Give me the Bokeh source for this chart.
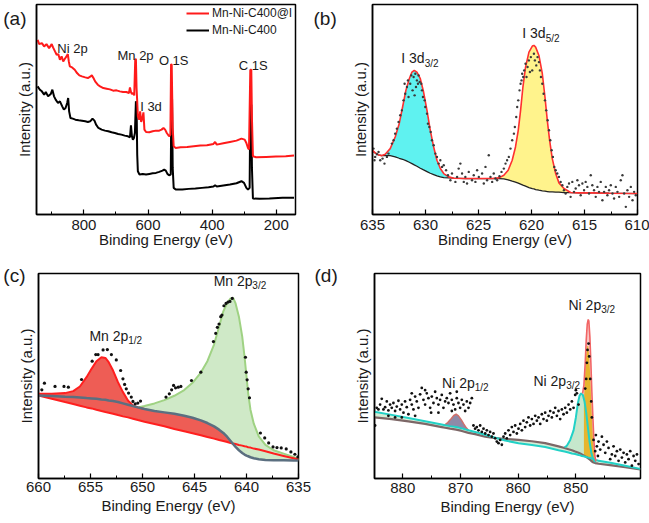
import numpy as np
from bokeh.plotting import figure
from bokeh.layouts import row, column
from bokeh.models import Range1d, Label, Legend, LegendItem, FixedTicker, LinearAxis
from bokeh.embed import file_html
from bokeh.resources import INLINE

FONT = "Liberation Sans"
TXT = "#1a1a1a"

# ---------------- (a) survey spectra ----------------
a_red_e = [944.6, 939.5, 931.3, 924.1, 916.9, 908.7, 900.5, 896.4, 890.3, 885.1, 880.0, 874.9, 869.7, 864.6, 859.5,
           854.4, 850.3, 847.2, 844.1, 836.9, 828.7, 821.5, 814.4, 806.2, 795.9, 787.7, 780.5, 775.4, 770.3, 765.1,
           756.9, 749.7, 739.5, 729.2, 719.0, 708.7, 698.5, 688.2, 678.0, 667.7, 659.5, 656.4, 653.3, 650.3, 646.2,
           643.1, 640.0, 637.9, 635.9, 633.8, 631.8, 627.7, 624.6, 621.5, 617.4, 614.4, 611.3, 606.2, 595.9, 585.6,
           575.4, 565.1, 557.9, 551.8, 546.7, 541.5, 534.4, 530.3, 528.2, 526.2, 523.1, 520.0, 513.8, 498.5, 478.0,
           457.4, 436.9, 416.4, 395.9, 390.8, 385.6, 365.1, 344.6, 324.1, 308.7, 298.5, 293.3, 288.2, 285.1, 281.0,
           277.9, 275.9, 272.8, 262.6, 231.8, 201.0, 170.3, 144.6]
a_red_i = [52.5, 51.2, 51.5, 50.5, 51.2, 50.0, 51.2, 50.2, 49.0, 48.0, 48.2, 46.5, 47.5, 46.0, 46.8,
           47.5, 48.2, 46.0, 44.5, 44.2, 43.5, 42.5, 41.8, 41.5, 41.2, 41.0, 41.4, 41.8, 41.0, 40.0,
           39.0, 38.5, 38.0, 37.8, 37.6, 37.2, 37.3, 37.0, 36.8, 36.8, 36.5, 38.2, 36.8, 36.2, 36.5,
           35.8, 46.5, 46.8, 38.0, 34.0, 29.5, 28.5, 31.0, 27.8, 29.0, 30.7, 25.5, 24.8, 24.7, 25.0,
           25.2, 25.2, 25.5, 26.0, 25.5, 24.5, 23.5, 24.0, 45.2, 45.0, 26.0, 20.5, 20.0, 20.2, 20.3,
           20.5, 20.7, 20.8, 21.2, 21.8, 21.0, 21.4, 21.8, 22.2, 22.8, 22.5, 21.5, 20.0, 19.5, 43.5,
           43.5, 29.0, 17.5, 17.2, 17.3, 17.4, 17.5, 17.7]
a_blk_e = [944.6, 937.4, 931.3, 924.1, 919.0, 911.8, 903.6, 898.5, 893.3, 888.2, 881.0, 874.9, 867.7, 862.6, 857.4,
           852.3, 849.2, 846.2, 842.1, 834.9, 826.7, 816.4, 806.2, 795.9, 787.7, 780.5, 773.3, 767.2, 762.1, 754.9,
           744.6, 734.4, 724.1, 713.8, 703.6, 693.3, 683.1, 672.8, 662.6, 656.4, 653.3, 650.3, 647.2, 644.1, 641.0,
           637.9, 635.9, 633.8, 631.8, 626.7, 616.4, 606.2, 595.9, 585.6, 575.4, 565.1, 554.9, 549.7, 544.6, 539.5,
           534.4, 529.2, 527.2, 525.1, 523.1, 520.0, 513.8, 493.3, 472.8, 452.3, 431.8, 411.3, 395.9, 390.8, 385.6,
           365.1, 344.6, 324.1, 308.7, 300.5, 293.3, 288.2, 283.1, 281.0, 277.9, 275.9, 272.8, 252.3, 221.5, 180.5,
           144.6]
a_blk_i = [38.5, 37.5, 37.0, 36.0, 36.8, 35.5, 36.2, 37.5, 35.5, 34.5, 33.5, 34.0, 32.5, 31.5, 32.0,
           33.5, 35.0, 31.0, 29.0, 28.8, 28.5, 28.3, 28.2, 28.0, 27.8, 28.0, 28.8, 28.2, 27.0, 26.0,
           25.5, 25.2, 25.0, 24.7, 24.5, 24.2, 24.0, 23.7, 23.5, 23.2, 26.8, 23.5, 22.5, 23.0, 24.5,
           34.0, 33.5, 18.0, 13.0, 12.0, 12.2, 12.0, 12.2, 12.4, 12.5, 12.8, 13.2, 13.5, 13.2, 12.2,
           11.8, 12.0, 35.0, 34.8, 14.0, 8.0, 7.5, 7.5, 7.7, 7.8, 8.0, 8.2, 8.4, 8.8, 8.4,
           8.7, 9.0, 9.4, 10.0, 9.5, 8.0, 7.5, 8.0, 33.0, 33.0, 14.0, 4.8, 4.7, 4.8, 5.0,
           5.0]
a_series = ["Mn-Ni-C400@I", "Mn-Ni-C400"]
a_xticks = [200, 400, 600, 800]
a_xminor = [100, 300, 500, 700, 900]
a_peak_names = ["Ni 2p", "Mn 2p", "O 1S", "C 1S", "I 3d"]
a_peak_e = [883.0, 695.4, 566.2, 316.9, 624.6]
a_peak_i = [50.0, 47.8, 46.3, 44.8, 32.5]

# ---------------- (b) I 3d ----------------
b_e = [635.00, 634.75, 634.43, 634.12, 633.80, 633.33, 632.86, 632.48, 632.16, 631.85,
       631.53, 631.28, 631.06, 630.81, 630.49, 630.18, 629.86, 629.55, 629.23, 628.92,
       628.60, 628.28, 627.81, 627.34, 626.24, 624.97, 623.71, 623.08, 622.61, 622.20,
       621.82, 621.51, 621.25, 621.03, 620.81, 620.56, 620.24, 619.92, 619.77, 619.61,
       619.30, 618.98, 618.73, 618.51, 618.29, 618.04, 617.72, 617.41, 616.94, 616.31,
       615.52, 614.26, 612.68, 610.00]
b_bg = [19.1, 18.5, 17.9, 17.7, 17.7, 17.7, 17.3, 16.9, 16.6, 16.2,
        15.7, 15.3, 14.9, 14.5, 13.9, 13.4, 12.9, 12.4, 12.0, 11.6,
        11.3, 11.1, 11.0, 10.9, 10.8, 10.8, 10.8, 10.8, 10.7, 10.4,
        10.0, 9.7, 9.4, 9.1, 8.8, 8.5, 8.1, 7.8, 7.7, 7.5,
        7.3, 7.1, 7.0, 6.9, 6.8, 6.8, 6.7, 6.7, 6.6, 6.6,
        6.5, 6.5, 6.4, 6.3]
b_env = [19.3, 18.5, 17.9, 17.7, 18.1, 19.8, 23.3, 27.3, 32.3, 37.3,
         40.8, 42.8, 43.3, 42.8, 40.8, 36.8, 31.3, 25.3, 20.3, 16.3,
         13.8, 12.3, 11.3, 10.9, 10.8, 10.8, 10.8, 11.0, 11.8, 13.3,
         16.3, 20.3, 25.3, 31.3, 38.3, 44.3, 48.8, 50.6, 50.8, 50.3,
         47.8, 42.3, 35.3, 28.3, 22.3, 16.8, 12.3, 9.5, 7.8, 6.6,
         6.5, 6.5, 6.4, 6.3]
b_sc_e = [634.91, 634.81, 634.75, 634.59, 634.43, 634.27, 634.05, 633.87, 633.64, 633.49,
          633.17, 633.01, 632.86, 632.70, 632.54, 632.38, 632.23, 632.07, 631.97, 631.91,
          631.75, 631.66, 631.60, 631.44, 631.34, 631.22, 631.12, 631.03, 630.96, 630.90,
          630.81, 630.71, 630.65, 630.55, 630.40, 630.33, 630.24, 630.08, 630.02, 629.86,
          629.77, 629.64, 629.51, 629.39, 629.23, 629.07, 628.92, 628.76, 628.60, 628.44,
          628.28, 628.06, 627.88, 627.65, 627.50, 627.18, 627.02, 626.87, 626.71, 626.55,
          626.39, 626.24, 626.08, 625.92, 625.61, 625.45, 625.29, 625.13, 624.97, 624.66,
          624.50, 624.34, 624.19, 624.03, 623.87, 623.71, 623.56, 623.40, 623.24, 623.02,
          622.83, 622.61, 622.45, 622.30, 622.14, 621.98, 621.82, 621.66, 621.57, 621.44,
          621.35, 621.25, 621.13, 621.03, 620.94, 620.88, 620.78, 620.69, 620.56, 620.47,
          620.37, 620.25, 620.15, 620.06, 619.93, 619.77, 619.68, 619.55, 619.43, 619.30,
          619.21, 619.11, 618.98, 618.86, 618.73, 618.61, 618.48, 618.35, 618.23, 618.10,
          617.98, 617.85, 617.72, 617.57, 617.41, 617.25, 617.09, 616.94, 616.78, 616.62,
          616.46, 616.31, 616.15, 615.99, 615.83, 615.67, 615.52, 615.36, 615.20, 615.04,
          614.89, 614.73, 614.57, 614.41, 614.26, 614.10, 613.94, 613.78, 613.63, 613.47,
          613.31, 613.15, 612.99, 612.84, 612.68, 612.52, 612.36, 612.21, 612.05, 611.89,
          611.73, 611.58, 611.42, 611.26, 611.10, 610.95, 610.79, 610.63, 610.47, 610.32, 610.16]
b_sc_i = [19.8, 16.3, 17.3, 18.1, 18.8, 16.3, 16.8, 15.3, 17.3, 18.3,
          21.3, 22.3, 24.3, 25.8, 27.8, 29.8, 31.3, 34.3, 39.3, 36.3,
          38.3, 40.3, 35.3, 39.3, 41.8, 37.3, 41.3, 35.8, 42.3, 38.3,
          40.3, 39.3, 41.8, 39.8, 39.3, 37.3, 35.3, 34.3, 32.3, 30.3,
          27.3, 26.3, 24.8, 22.3, 20.8, 18.3, 17.3, 15.3, 16.3, 14.3,
          14.8, 13.3, 11.8, 10.3, 12.3, 9.8, 11.3, 13.8, 15.3, 12.3,
          9.8, 11.3, 9.3, 12.8, 10.3, 11.8, 9.8, 13.3, 11.3, 12.3,
          9.3, 14.3, 10.3, 17.8, 11.3, 9.8, 12.3, 10.8, 10.3, 11.5,
          12.8, 13.8, 15.3, 16.3, 17.3, 19.8, 22.3, 24.3, 26.3, 29.3,
          32.3, 34.3, 37.3, 39.3, 40.3, 42.3, 41.3, 43.3, 45.3, 41.3,
          44.3, 46.3, 42.8, 47.3, 43.3, 48.3, 46.3, 44.8, 47.3, 45.8,
          43.3, 41.3, 39.3, 36.3, 34.3, 31.3, 28.3, 25.3, 22.3, 19.3,
          17.3, 14.3, 13.3, 12.3, 11.3, 9.8, 8.8, 7.3, 6.3, 8.3,
          9.3, 5.3, 9.8, 6.8, 7.8, 10.3, 8.8, 5.8, 9.3, 7.3,
          9.8, 8.3, 6.3, 11.8, 8.8, 7.3, 5.3, 8.3, 6.8, 9.8,
          4.3, 6.8, 8.3, 5.8, 7.3, 8.8, 6.3, 4.8, 8.3, 6.8,
          5.3, 10.3, 11.8, 6.3, 2.3, 7.3, 5.3, 8.3, 4.3, 6.8, 5.8]
b_ticks = [610, 615, 620, 625, 630, 635]
b_minor = [612.5, 617.5, 622.5, 627.5, 632.5]

# ---------------- (c) Mn 2p ----------------
c_e = [660.00, 658.73, 657.45, 656.66, 656.02, 655.38, 654.90, 654.43, 653.95, 653.57,
       653.25, 652.83, 652.36, 651.88, 651.40, 650.92, 650.45, 649.81, 648.85, 647.90,
       646.94, 645.99, 645.19, 644.39, 643.76, 643.12, 642.64, 642.23, 641.85, 641.53,
       641.27, 641.05, 640.73, 640.41, 640.19, 640.00, 639.84, 639.62, 639.30, 638.82,
       638.18, 637.39, 636.43, 635.48, 635.00]
c_linbg = [25.0, 24.0, 23.0, 22.4, 21.9, 21.4, 21.1, 20.7, 20.3, 20.0,
           19.8, 19.5, 19.1, 18.7, 18.4, 18.0, 17.6, 17.1, 16.4, 15.7,
           14.9, 14.2, 13.6, 13.0, 12.5, 12.0, 11.6, 11.3, 11.0, 10.7,
           10.5, 10.4, 10.1, 9.9, 9.7, 9.6, 9.4, 9.3, 9.0, 8.7,
           8.2, 7.5, 6.8, 6.1, 5.7]
c_shirley = [25.0, 24.8, 24.6, 24.5, 24.4, 24.2, 24.1, 24.0, 23.8, 23.7,
             23.5, 23.3, 23.0, 22.6, 22.2, 21.8, 21.4, 20.9, 20.3, 19.9,
             19.5, 18.9, 18.3, 17.5, 16.7, 15.7, 14.7, 13.7, 12.5, 11.3,
             10.3, 9.5, 8.5, 7.7, 7.2, 6.9, 6.7, 6.4, 6.1, 5.8,
             5.6, 5.5, 5.5, 5.4, 5.4]
c_p12 = [25.5, 25.5, 25.7, 26.3, 27.7, 30.5, 33.0, 35.3, 36.5, 36.3,
         35.0, 32.5, 29.0, 26.0, 23.5, 22.0, 21.4, 20.9]          # first 18 energies
c_p32 = [21.4, 21.8, 22.6, 23.6, 24.9, 26.6, 28.8, 31.9, 35.3, 40.3,
         45.7, 50.3, 52.9, 54.2, 54.3, 52.7, 48.7, 42.7, 36.7, 30.7,
         25.7, 20.7, 16.5, 12.7, 10.1, 8.5, 7.5, 6.5, 5.8]         # energies from index 16
c_sc_e = [659.68, 659.43, 658.41, 657.55, 657.13, 655.86, 654.84, 654.49, 654.27, 653.79,
          653.38, 652.99, 652.52, 652.10, 651.88, 651.72, 651.56, 651.34, 651.08, 650.92,
          650.70, 650.45, 650.19, 647.74, 647.42, 647.20, 647.01, 646.82, 646.56, 646.31,
          645.29, 644.39, 643.18, 642.96, 642.80, 642.64, 642.48, 642.36, 642.17, 641.97,
          641.78, 641.59, 641.37, 640.10, 640.03, 639.94, 639.84, 639.71, 638.66, 638.25,
          637.87, 637.45, 637.07, 636.66, 636.18, 635.73, 635.35, 635.06]
c_sc_i = [26.7, 28.7, 27.7, 27.7, 27.5, 29.8, 35.3, 37.3, 37.3, 38.7,
          38.8, 37.3, 35.7, 32.5, 30.0, 28.3, 27.0, 25.7, 24.5, 23.2,
          22.5, 22.7, 23.3, 24.5, 25.5, 26.7, 28.0, 27.3, 27.5, 27.7,
          29.5, 32.0, 41.2, 43.7, 45.5, 46.5, 48.7, 49.2, 52.0, 52.7,
          53.1, 53.3, 54.2, 36.5, 32.0, 29.7, 27.0, 24.3, 13.7, 12.2,
          10.7, 9.5, 9.3, 9.2, 8.9, 8.0, 7.3, 6.5]
c_ticks = [635, 640, 645, 650, 655, 660]
c_minor = [637.5, 642.5, 647.5, 652.5, 657.5]

# ---------------- (d) Ni 2p ----------------
d_e = [884.91, 881.91, 879.02, 876.13, 873.24, 872.66, 871.79, 870.75, 869.77, 868.61,
       867.46, 865.72, 864.57, 862.25, 859.94, 857.63, 855.32, 853.01, 851.97, 851.27,
       850.69, 850.12, 849.54, 849.25, 848.96, 848.67, 848.38, 848.09, 847.80, 847.51,
       847.23, 846.94, 846.65, 846.36, 846.07, 843.76, 841.45, 838.84]
d_shirley = [19.0, 18.5, 17.8, 17.0, 16.0, 15.8, 15.5, 15.2, 14.8, 14.2,
             13.8, 13.0, 12.7, 12.3, 12.0, 11.6, 11.0, 10.0, 9.5, 9.1,
             8.8, 8.4, 8.0, 7.8, 7.5, 7.2, 6.9, 6.6, 6.2, 5.8,
             5.3, 5.0, 4.8, 4.7, 4.6, 4.1, 3.5, 2.8]
d_linbg = [20.8, 19.8, 18.8, 17.8, 16.8, 16.6, 16.3, 16.0, 15.6, 15.0,
           14.5, 13.6, 13.0, 11.8, 11.0, 10.4, 9.8, 8.8, 8.4, 8.1,
           7.8, 7.6, 7.3, 7.2, 7.0, 6.9, 6.8, 6.6, 6.5, 6.4,
           6.2, 6.0, 5.8, 5.7, 5.5, 4.8, 4.0, 3.0]
d_p12_e = [872.77, 872.20, 871.62, 871.16, 870.75, 870.35, 869.88, 869.42, 868.96, 868.61]
d_p12_top = [16.6, 17.4, 18.6, 19.6, 20.0, 19.5, 18.3, 16.9, 15.7, 15.0]
d_p12_base = [16.6, 16.4, 16.3, 16.1, 16.0, 15.8, 15.7, 15.4, 15.2, 15.0]
d_sat_e = [851.97, 851.56, 850.98, 850.40, 850.00, 849.65, 849.36, 849.08, 848.79, 848.50,
           848.21, 847.92, 847.63, 847.34, 847.05, 846.76, 846.53]
d_sat_top = [9.7, 10.2, 12.0, 15.0, 19.0, 23.5, 25.8, 26.5, 26.0, 24.0,
             20.5, 16.0, 11.5, 8.2, 6.2, 5.4, 5.2]
d_sat_base = [9.5, 9.3, 9.0, 8.6, 8.3, 8.1, 7.9, 7.6, 7.3, 7.0,
              6.7, 6.3, 5.9, 5.5, 5.1, 4.9, 4.8]
d_main_e = [848.61, 848.38, 848.21, 848.03, 847.86, 847.69, 847.51, 847.34, 847.17, 847.00, 846.76, 846.53]
d_main_top = [24.0, 33.0, 38.5, 41.2, 41.2, 38.0, 32.0, 24.0, 17.0, 11.0, 6.5, 5.2]
d_main_base = [7.1, 6.9, 6.7, 6.5, 6.3, 6.0, 5.8, 5.5, 5.2, 5.1, 4.9, 4.8]
d_env_e = [848.84, 848.61, 848.38, 848.21, 848.03, 847.86, 847.75, 847.57, 847.40, 847.23,
           847.05, 846.88, 846.71, 846.53]
d_env_top = [26.5, 29.0, 36.0, 43.0, 48.0, 49.5, 49.0, 44.0, 36.0, 27.0, 19.0, 12.0, 7.0, 5.3]
d_env_base = [7.4, 7.1, 6.9, 6.7, 6.5, 6.3, 6.1, 5.9, 5.6, 5.3, 5.1, 5.0, 4.9, 4.8]
d_sc_e = [884.80, 884.51, 884.22, 883.93, 883.64, 883.35, 883.06, 882.77, 882.49, 882.20,
          881.91, 881.62, 881.33, 881.04, 880.75, 880.46, 880.17, 879.88, 879.60, 879.31,
          879.02, 878.73, 878.44, 878.15, 877.86, 877.57, 877.28, 876.99, 876.71, 876.42,
          876.13, 875.84, 875.55, 875.26, 874.97, 874.68, 874.39, 874.10, 873.82, 873.53,
          873.24, 872.95, 872.66, 872.37, 872.08, 871.79, 871.50, 871.21, 870.92, 870.64,
          870.35, 870.06, 869.77, 869.48, 869.19, 868.90, 868.61, 868.32, 868.03, 875.09,
          877.86, 880.17, 882.49, 873.82, 871.50, 876.13, 878.44, 881.33, 870.64,
          867.75, 867.46, 867.17, 866.88, 866.59, 866.30, 866.01, 865.72, 865.43, 865.14,
          864.86, 864.57, 864.28, 863.99, 863.70, 863.41, 863.12, 862.83, 862.54, 862.25,
          861.97, 861.68, 861.39, 861.10, 860.81, 860.52, 860.23, 859.94, 859.65, 859.36,
          859.08, 858.79, 858.50, 858.21, 857.92, 857.63, 857.34, 857.05, 856.76, 856.47,
          856.18, 855.90, 855.61, 855.32, 855.03, 854.74, 854.45, 854.16, 853.87, 853.58,
          853.29, 853.01, 852.72, 852.43, 852.14, 851.85, 851.56, 851.27, 850.98, 850.69,
          850.40, 850.12, 850.00, 849.83, 849.54,
          848.38, 848.21, 848.09, 847.98, 847.80, 847.69, 847.51, 847.34, 847.23,
          846.94, 846.65, 846.53, 846.36, 846.18, 846.07, 845.78, 845.49, 845.20, 844.91,
          844.62, 844.34, 844.05, 843.76, 843.47, 843.18, 842.89, 842.60, 842.31, 842.02,
          841.73, 841.45, 841.16, 840.87, 840.58, 840.29, 840.00, 839.71, 839.42, 839.13]
d_sc_i = [16.5, 22.0, 21.5, 23.0, 24.8, 21.5, 22.2, 24.0, 21.2, 23.0,
          22.0, 23.5, 21.0, 22.4, 24.2, 21.5, 23.0, 20.5, 24.0, 22.2,
          20.0, 24.5, 23.0, 21.5, 25.5, 24.0, 22.0, 26.2, 28.2, 24.5,
          23.0, 26.5, 25.0, 22.0, 25.5, 23.5, 27.0, 25.0, 23.0, 24.5,
          26.0, 22.0, 24.0, 25.0, 23.5, 26.5, 24.5, 23.0, 21.5, 25.0,
          23.5, 22.0, 24.5, 23.0, 21.0, 24.0, 22.0, 23.5, 25.0, 20.5,
          19.5, 19.0, 19.5, 20.5, 21.0, 27.5, 26.5, 19.0, 27.0,
          16.5, 15.5, 16.0, 15.0, 16.5, 14.5, 15.5, 14.0, 15.0, 13.5,
          14.5, 13.0, 14.0, 12.5, 11.5, 11.0, 12.0, 10.5, 13.0, 14.0,
          12.5, 15.0, 13.5, 16.0, 14.5, 16.5, 14.0, 15.5, 17.0, 15.0,
          18.0, 16.0, 17.5, 19.0, 16.5, 18.5, 17.0, 19.5, 18.0, 19.0,
          17.0, 20.0, 18.5, 20.5, 18.0, 19.5, 21.0, 19.0, 20.5, 22.0,
          19.5, 21.0, 18.5, 21.5, 20.0, 22.0, 20.5, 23.0, 21.5, 24.0,
          22.0, 26.0, 27.5, 26.5, 23.0,
          28.0, 31.0, 36.0, 40.0, 42.0, 38.0, 31.0, 24.0, 19.0,
          12.0, 8.5, 13.5, 10.0, 7.0, 11.5, 9.0, 13.0, 10.5, 8.0,
          11.5, 9.5, 6.0, 7.5, 10.0, 7.0, 8.5, 5.5, 9.0, 6.5,
          8.0, 5.0, 7.5, 6.0, 8.5, 4.0, 7.0, 5.5, 7.5, 4.5]
d_ticks = [850, 860, 870, 880]
d_minor = [845, 855, 865, 875]

panel_tags = ["(a)", "(b)", "(c)", "(d)"]


def make_fig(width, height, xr, yr, borders, ticks, minor, tick_standoff, title_standoff):
    bl, br, bt, bb = borders
    p = figure(width=width, height=height, x_range=Range1d(*xr), y_range=Range1d(*yr),
               output_backend="svg", toolbar_location=None,
               min_border_left=bl, min_border_right=br, min_border_top=bt, min_border_bottom=bb)
    p.grid.visible = False
    p.background_fill_color = "white"
    p.border_fill_color = "white"
    p.outline_line_color = "black"
    p.outline_line_width = 1.5
    p.outline_line_alpha = 1.0
    ax = p.xaxis[0]
    ax.ticker = FixedTicker(ticks=ticks, minor_ticks=minor)
    ax.axis_label = "Binding Energy (eV)"
    ax.axis_label_text_font = FONT
    ax.axis_label_text_font_size = "15px"
    ax.axis_label_text_font_style = "normal"
    ax.axis_label_text_color = TXT
    ax.axis_label_standoff = title_standoff
    ax.major_label_text_font = FONT
    ax.major_label_text_font_size = "15px"
    ax.major_label_text_color = TXT
    ax.major_label_standoff = tick_standoff
    ax.major_tick_in = 5
    ax.major_tick_out = 0
    ax.minor_tick_in = 3
    ax.minor_tick_out = 0
    ax.axis_line_width = 1.5
    ax.major_tick_line_width = 1.2
    ax.minor_tick_line_width = 1.0
    ay = p.yaxis[0]
    ay.ticker = FixedTicker(ticks=[])
    ay.axis_label = "Intensity (a.u.)"
    ay.axis_label_text_font = FONT
    ay.axis_label_text_font_size = "15px"
    ay.axis_label_text_font_style = "normal"
    ay.axis_label_text_color = TXT
    ay.axis_label_standoff = 4
    ay.major_label_standoff = 0
    ay.major_tick_out = 0
    ay.major_tick_in = 0
    ay.axis_line_width = 1.5
    return p


def add_text(p, x, y, s, size, align="left"):
    p.add_layout(Label(x=x, y=y, text=s, text_font=FONT, text_font_size=f"{size}px",
                       text_color=TXT, text_align=align, text_baseline="middle"))


def add_sub(p, x, y, main, sub, xs, ys, size=14):
    add_text(p, x, y, main, size)
    add_text(p, xs, ys, sub, 10)


def add_tag(p, s, yval, standoff, side):
    # panel letter: a bare side axis whose single tick label is the letter
    tag = LinearAxis(ticker=FixedTicker(ticks=[yval], minor_ticks=[]),
                     major_label_overrides={yval: s})
    tag.axis_line_color = None
    tag.major_tick_line_color = None
    tag.minor_tick_line_color = None
    tag.major_tick_in = 0
    tag.major_tick_out = 0
    tag.minor_tick_in = 0
    tag.minor_tick_out = 0
    tag.major_label_standoff = standoff
    tag.major_label_text_font = FONT
    tag.major_label_text_font_size = "19px"
    tag.major_label_text_color = TXT
    p.add_layout(tag, side)


# ---------- figure (a) ----------
pa = make_fig(343, 260, (948, 140), (0, 63.1), (34, 48, 3, 46), a_xticks, a_xminor, 5, -2)
r_blk = pa.line(a_blk_e, a_blk_i, line_color="black", line_width=2)
r_red = pa.line(a_red_e, a_red_i, line_color="#ff1a1a", line_width=2)
for name, e, i in zip(a_peak_names, a_peak_e, a_peak_i):
    add_text(pa, e, i, name, 13)
leg = Legend(items=[LegendItem(label=a_series[0], renderers=[r_red]),
                    LegendItem(label=a_series[1], renderers=[r_blk])],
             location=(150, 177), padding=0, spacing=3, glyph_width=23, glyph_height=12,
             label_height=12, label_standoff=3, label_text_font=FONT, label_text_font_size="12px",
             label_text_color=TXT, background_fill_alpha=0, border_line_color=None, margin=0)
pa.add_layout(leg)
add_tag(pa, panel_tags[0], 59, -14, "left")
add_tag(pa, panel_tags[1], 59, 18, "right")

# ---------- figure (b) ----------
pb = make_fig(306, 260, (635, 610), (0, 63.1), (29, 12, 4, 46), b_ticks, b_minor, 5, -2)
k = 25
pb.varea(x=b_e[:k + 1], y1=b_bg[:k + 1], y2=b_env[:k + 1], fill_color="#5ff2f0", fill_alpha=1.0)
pb.varea(x=b_e[k:], y1=b_bg[k:], y2=b_env[k:], fill_color="#fff38c", fill_alpha=1.0)
pb.line(b_e, b_bg, line_color="#222222", line_width=1.3)
pb.line(b_e, b_env, line_color="#ff3030", line_width=1.6)
pb.scatter(b_sc_e, b_sc_i, marker="circle", size=2.4, fill_color="#3a3a3a", line_color=None)
add_sub(pb, 632.29, 46.9, "I 3d", "3/2", 630.08, 45.4)
add_sub(pb, 620.87, 54.4, "I 3d", "5/2", 618.66, 52.9)

# ---------- figure (c) ----------
pc = make_fig(343, 263, (660, 635), (0, 61.7), (37, 45, 13, 45), c_ticks, c_minor, 3, 2)
ce = np.array(c_e)
lin = np.array(c_linbg)
shir = np.array(c_shirley)
p32 = np.array(c_p32)
p12 = np.array(c_p12)
g_lo = np.minimum(lin[16:], shir[16:])
pc.varea(x=ce[16:], y1=g_lo, y2=p32, fill_color="#cfe9c7", fill_alpha=1.0)
n = 31
red_up = np.maximum(shir[:n], lin[:n])
red_up[:18] = np.maximum(red_up[:18], p12)
pc.varea(x=ce[:n], y1=lin[:n], y2=red_up, fill_color="#ee5d55", fill_alpha=1.0)
pc.line(ce[16:], p32, line_color="#9fd283", line_width=2)
pc.line(ce, lin, line_color="#ff1f1f", line_width=2)
pc.line(ce[:18], p12, line_color="#ff1f1f", line_width=2)
pc.line(ce, shir, line_color="#5b6f80", line_width=2.5)
pc.scatter(c_sc_e, c_sc_i, marker="circle", size=3.2, fill_color="#111111", line_color=None)
add_sub(pc, 655.10, 43.0, "Mn 2p", "1/2", 651.38, 41.5)
add_sub(pc, 643.16, 59.5, "Mn 2p", "3/2", 639.44, 58.0)
add_tag(pc, panel_tags[2], 61, -11, "left")
add_tag(pc, panel_tags[3], 61, 16, "right")

# ---------- figure (d) ----------
pd_ = make_fig(306, 263, (884.9, 838.8), (0, 63.8), (31, 9, 7, 43), d_ticks, d_minor, 4, 2)
pd_.varea(x=d_e, y1=d_shirley, y2=d_linbg, fill_color="#d3edd6", fill_alpha=1.0)
pd_.varea(x=d_env_e, y1=d_env_base, y2=d_env_top, fill_color="#f7b9b6", fill_alpha=0.8)
pd_.varea(x=d_sat_e, y1=d_sat_base, y2=d_sat_top, fill_color="#c6e7cc", fill_alpha=1.0)
pd_.varea(x=d_main_e, y1=d_main_base, y2=d_main_top, fill_color="#e6b52e", fill_alpha=1.0)
pd_.varea(x=d_p12_e, y1=d_p12_base, y2=d_p12_top, fill_color="#8e8aa8", fill_alpha=1.0)
pd_.line(d_p12_e, d_p12_top, line_color="#cf6f6a", line_width=1.5)
pd_.line(d_e, d_shirley, line_color="#7d6767", line_width=2.2)
pd_.line(d_e, d_linbg, line_color="#22d1c6", line_width=2)
pd_.line(d_sat_e, d_sat_top, line_color="#22d1c6", line_width=2)
pd_.line(d_env_e, d_env_top, line_color="#f26565", line_width=1.6)
pd_.scatter(d_sc_e, d_sc_i, marker="circle", size=2.8, fill_color="#111111", line_color=None)
add_sub(pd_, 873.19, 29.7, "Ni 2p", "1/2", 867.52, 28.2)
add_sub(pd_, 857.35, 30.45, "Ni 2p", "3/2", 851.68, 28.95)
add_sub(pd_, 851.28, 54.15, "Ni 2p", "3/2", 845.61, 52.65)

layout = column(row(pa, pb), row(pc, pd_))
open("out.html", "w").write(file_html(layout, INLINE))
